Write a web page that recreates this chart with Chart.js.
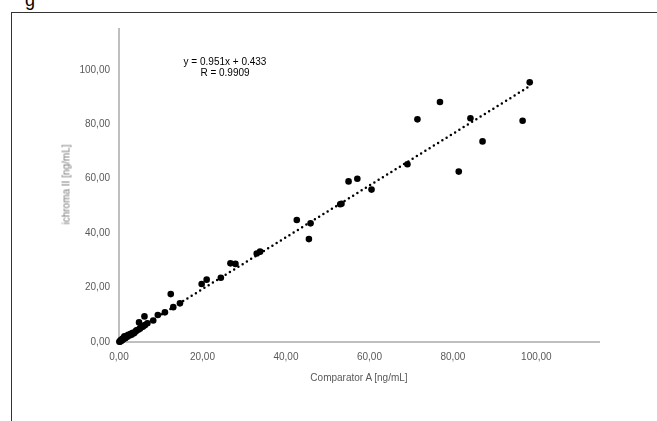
<!DOCTYPE html>
<html>
<head>
<meta charset="utf-8">
<script src="https://cdn.jsdelivr.net/npm/chart.js@4"></script>
<style>
  body { margin: 0; background: #fff; }
  .wrap { position: relative; width: 657px; height: 421px; overflow: hidden; font-family: "Liberation Sans", Arial, sans-serif; }
  .frame { position: absolute; left: 11px; top: 12px; width: 800px; height: 600px; border: 1.5px solid #333; }
  canvas { position: absolute; left: 0; top: 0; }
  .lbl { position: absolute; white-space: nowrap; font-size: 10px; line-height: 11px; }
</style>
</head>
<body>
<div class="wrap">
  <div class="lbl" style="left:25px; top:-10px; font-size:18px; line-height:20px; color:#000;">g</div>
  <div class="frame"></div>
  <canvas id="myChart" width="657" height="421"></canvas>
  <div class="lbl" style="left:165px; top:56px; width:120px; text-align:center; color:#000;">y = 0.951x + 0.433</div>
  <div class="lbl" style="left:165px; top:67px; width:120px; text-align:center; color:#000;">R = 0.9909</div>
  <div class="lbl" style="left:259px; top:372px; width:200px; text-align:center; color:#595959;">Comparator A [ng/mL]</div>
  <div class="lbl" style="left:-34px; top:179px; width:200px; text-align:center; color:#7a7a7a; transform:rotate(-90deg);">ichroma II [ng/mL]</div>
</div>
<script>
// values
const comparatorA = [0.1, 0.2, 0.3, 0.4, 0.5, 0.6, 0.8, 0.9, 1.0, 1.2, 1.3, 1.5, 1.7, 2.0, 2.2, 2.5, 2.8, 3.0, 3.3, 3.6,
  4.0, 4.2, 4.6, 5.0, 5.3, 5.7, 6.2, 6.8, 4.8, 6.1, 8.2, 9.3, 11.0, 13.0, 14.6, 12.4, 19.8, 21.0, 24.4, 26.7,
  27.9, 33.0, 33.8, 42.6, 45.5, 45.9, 53.0, 53.3, 55.0, 57.1, 60.5, 69.1, 71.5, 76.9, 81.4, 84.2, 87.1, 96.7, 98.4];
const ichromaII = [0.1, 0.3, 0.2, 0.6, 0.4, 0.9, 0.7, 1.3, 1.0, 1.6, 2.1, 1.4, 2.2, 1.9, 2.6, 2.4, 3.0, 2.7, 3.4, 3.2,
  3.9, 4.3, 4.5, 4.9, 5.4, 5.6, 6.2, 6.9, 7.2, 9.4, 7.9, 9.9, 10.9, 12.8, 14.2, 17.6, 21.3, 22.9, 23.6, 28.9,
  28.7, 32.5, 33.2, 44.8, 37.8, 43.6, 50.6, 50.8, 59.0, 60.0, 56.0, 65.3, 81.8, 88.2, 62.6, 82.2, 73.7, 81.3, 95.4];
const xTicks = [0, 20, 40, 60, 80, 100];
const yTicks = [0, 20, 40, 60, 80, 100];
const axisMax = 115;
// trendline as given in the chart
const slope = 0.951;
const intercept = 0.433;

const points = comparatorA.map((x, i) => ({ x: x, y: ichromaII[i] }));
const xMin = Math.min(...comparatorA);
const xMax = Math.max(...comparatorA);
const trend = [
  { x: xMin, y: slope * xMin + intercept },
  { x: xMax, y: slope * xMax + intercept }
];

const fmt = v => v.toFixed(2).replace('.', ',');
const keepTicks = list => scale => {
  scale.ticks = scale.ticks.filter(t => list.includes(t.value));
};

const tickFont = { family: '"Liberation Sans", Arial, sans-serif', size: 10 };

const ctx = document.getElementById('myChart').getContext('2d');
new Chart(ctx, {
  type: 'scatter',
  data: {
    datasets: [
      {
        label: 'data',
        data: points,
        backgroundColor: '#000',
        borderColor: '#000',
        pointRadius: 3.3,
        pointBorderWidth: 0,
        clip: false
      },
      {
        label: 'trend',
        type: 'line',
        data: trend,
        borderColor: '#000',
        borderWidth: 2.5,
        borderDash: [0, 5],
        borderCapStyle: 'round',
        pointRadius: 0,
        fill: false,
        clip: false
      }
    ]
  },
  options: {
    responsive: false,
    animation: false,
    layout: { padding: { left: 0, top: 29, right: 58, bottom: 0 } },
    plugins: { legend: { display: false }, tooltip: { enabled: false } },
    scales: {
      x: {
        type: 'linear',
        min: 0,
        max: axisMax,
        afterFit: s => { s.height = 79; },
        afterBuildTicks: keepTicks(xTicks),
        grid: { display: true, drawOnChartArea: false, drawTicks: false },
        border: { display: true, color: '#bfbfbf', width: 2 },
        ticks: { stepSize: 20, padding: 9, color: '#595959', font: tickFont, callback: v => fmt(v), maxRotation: 0 }
      },
      y: {
        type: 'linear',
        min: 0,
        max: axisMax,
        afterFit: s => { s.width = 119; },
        afterBuildTicks: keepTicks(yTicks),
        grid: { display: true, drawOnChartArea: false, drawTicks: false },
        border: { display: true, color: '#bfbfbf', width: 2 },
        ticks: { stepSize: 20, padding: 9, color: '#595959', font: tickFont, callback: v => fmt(v) }
      }
    }
  }
});
</script>
</body>
</html>
